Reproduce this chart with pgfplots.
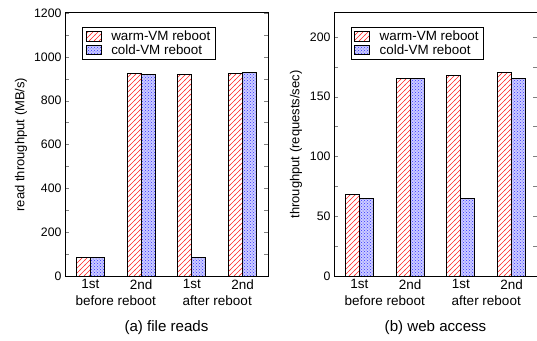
\documentclass[border=0pt]{standalone}
\usepackage{fontspec}
\setmainfont{Liberation Sans}
\usepackage{pgfplots}
\pgfplotsset{compat=1.18}
\usetikzlibrary{patterns}
\pgfdeclarepatternformonly{widelines}{\pgfqpoint{-1pt}{-1pt}}{\pgfqpoint{6pt}{6pt}}{\pgfqpoint{5pt}{5pt}}{%
  \pgfsetlinewidth{0.5pt}%
  \pgfpathmoveto{\pgfqpoint{-0.5pt}{-0.5pt}}%
  \pgfpathlineto{\pgfqpoint{5.5pt}{5.5pt}}%
  \pgfusepath{stroke}}
\begin{document}
\begin{tikzpicture}
\path[use as bounding box] (0,0) rectangle (537pt,340pt);
\pgfplotsset{
  myaxis/.style={
    scale only axis, width=203pt, height=263pt,
    anchor=south west,
    ybar=0pt, bar width=14pt,
    xmin=-0.5, xmax=3.5,
    xtick={0,1,2,3},
    xticklabels={1st,2nd,1st,2nd},
    extra x ticks={0.5,2.5},
    extra x tick labels={before reboot,after reboot},
    extra x tick style={tick label style={yshift=-16pt}, major tick length=0pt},
    x tick style={draw=none},
    ymin=0,
    tick align=inside,
    ytick pos=both,
    major tick length=4pt, minor tick length=4pt,
    minor y tick num=1,
    /pgf/number format/1000 sep={},
    /pgf/number format/assume math mode=true,
    yticklabel style={font=\fontsize{12.3}{13}\selectfont},
    xticklabel style={font=\fontsize{13.5}{14}\selectfont},
    ylabel style={font=\fontsize{13}{14}\selectfont},
    xlabel style={font=\fontsize{15.1}{17}\selectfont, at={(axis description cs:0.5,0)}, anchor=center, yshift=-52pt},
    legend style={font=\fontsize{13.4}{14}\selectfont, anchor=north west, draw=black, line width=0.8pt, inner xsep=3pt, inner ysep=1.5pt, row sep=-1.5pt, cells={anchor=west}},
    legend image code/.code={\draw[#1, line width=0.6pt] (0pt,-4.5pt) rectangle (15pt,5pt);},
    axis line style={line width=1pt},
  },
  warm/.style={draw=black, line width=0.9pt, fill=white, postaction={pattern=widelines, pattern color=red!85}},
  cold/.style={draw=black, line width=0.9pt, fill=blue!20, postaction={pattern=crosshatch dots, pattern color=blue!80}},
}
\begin{axis}[myaxis, at={(65pt,64pt)},
  ymax=1200, ytick={0,200,...,1200},
  ylabel={read throughput (MB/s)},
  ylabel style={at={(axis description cs:-0.217,0.5)}, anchor=center},
  xlabel={(a) file reads},
  legend style={at={(axis description cs:0.085,0.947)}},
]
\addplot[warm] coordinates {(0,83) (1,925) (2,920) (3,922)};
\addplot[cold] coordinates {(0,85) (1,920) (2,85) (3,928)};
\legend{\hspace{8pt}warm-VM reboot, \hspace{8pt}cold-VM reboot}
\end{axis}
\begin{axis}[myaxis, at={(334pt,64pt)},
  ymax=220, ytick={0,50,...,200},
  ylabel={throughput (requests/sec)},
  ylabel style={at={(axis description cs:-0.187,0.5)}, anchor=center},
  xlabel={(b) web access},
  legend style={at={(axis description cs:0.082,0.947)}},
]
\addplot[warm] coordinates {(0,68) (1,165) (2,168) (3,170)};
\addplot[cold] coordinates {(0,65) (1,165) (2,65) (3,165)};
\legend{\hspace{8pt}warm-VM reboot, \hspace{8pt}cold-VM reboot}
\end{axis}
\end{tikzpicture}
\end{document}
